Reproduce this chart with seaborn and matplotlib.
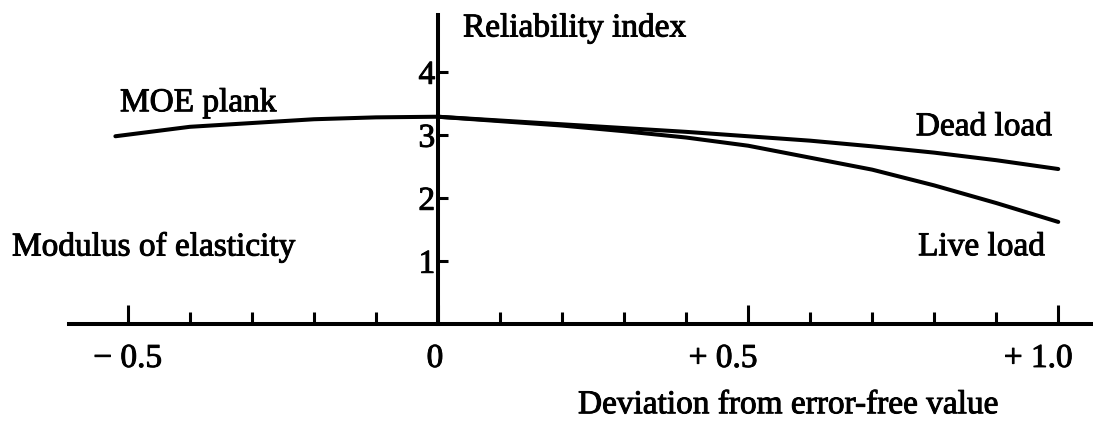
import matplotlib
matplotlib.use("Agg")
import matplotlib.pyplot as plt
import matplotlib.patheffects as pe
import matplotlib.transforms as mtransforms
import numpy as np
import pandas as pd
import seaborn as sns

# Reliability index versus deviation of the modulus of elasticity
moe_x = [-0.52, -0.4, -0.3, -0.2, -0.1, 0.0]
moe_beta = [2.98, 3.13, 3.19, 3.25, 3.28, 3.29]

load_x = [0.0, 0.1, 0.2, 0.3, 0.4, 0.5, 0.6, 0.7, 0.8, 0.9, 1.0]
dead_beta = [3.29, 3.23, 3.17, 3.11, 3.05, 2.98, 2.91, 2.82, 2.72, 2.60, 2.46]
live_beta = [3.29, 3.22, 3.15, 3.06, 2.96, 2.83, 2.64, 2.45, 2.20, 1.92, 1.62]

x_major = [-0.5, 0.0, 0.5, 1.0]
x_major_labels = ["\u2212 0.5", "0", "+ 0.5", "+ 1.0"]
x_minor = [-0.4, -0.3, -0.2, -0.1, 0.1, 0.2, 0.3, 0.4, 0.6, 0.7, 0.8, 0.9]
y_ticks = [1, 2, 3, 4]

sns.set_theme(style="white")
plt.rcParams["font.family"] = ["Liberation Serif", "DejaVu Serif"]

W, H = 1093, 429
FS = 24
ink = [pe.withStroke(linewidth=0.7, foreground="black")]

fig = plt.figure(figsize=(W / 100, H / 100), dpi=100)
ax = fig.add_axes([0, 0, 1, 1])

lw = 2.9
df = pd.concat([
    pd.DataFrame({"x": moe_x, "beta": moe_beta, "curve": "MOE plank"}),
    pd.DataFrame({"x": load_x, "beta": dead_beta, "curve": "Dead load"}),
    pd.DataFrame({"x": load_x, "beta": live_beta, "curve": "Live load"}),
])
sns.lineplot(data=df, x="x", y="beta", units="curve", estimator=None,
             color="black", linewidth=lw, sort=False, ax=ax, legend=False)

ax.set_xlim(-0.706, 1.056)
ax.set_ylim(-1.667, 5.143)
ax.set_xlabel("")
ax.set_ylabel("")

for side in ("top", "right"):
    ax.spines[side].set_visible(False)
ax.spines["left"].set_position(("data", 0))
ax.spines["bottom"].set_position(("data", 0))
ax.spines["left"].set_bounds(0, 4.9)
ax.spines["bottom"].set_bounds(-0.595, 1.06)
for side in ("left", "bottom"):
    ax.spines[side].set_linewidth(lw)
    ax.spines[side].set_color("black")

ax.set_xticks(x_major)
ax.set_xticklabels(x_major_labels)
ax.set_xticks(x_minor, minor=True)
ax.tick_params(axis="x", which="both", bottom=True)
ax.tick_params(axis="x", which="major", direction="in", length=14, width=2.2,
               color="black", pad=14, labelsize=FS, labelcolor="black")
ax.tick_params(axis="x", which="minor", direction="in", length=8.5, width=2.2,
               color="black")
ax.set_yticks(y_ticks)
ax.set_yticklabels([str(v) for v in y_ticks])
ax.tick_params(axis="y", which="major", left=True, direction="in", length=7,
               width=2.2, color="black", pad=2, labelsize=FS, labelcolor="black")
for lab in ax.get_xticklabels() + ax.get_yticklabels():
    lab.set_path_effects(ink)

# Nudge the signed labels a little so they sit as typeset
nudges_px = [0, -3, -25, -20]
for lab, dx in zip(ax.get_xticklabels(), nudges_px):
    shift = mtransforms.ScaledTranslation(dx / 100, 0, fig.dpi_scale_trans)
    lab.set_transform(lab.get_transform() + shift)


def px_text(x, y, s, **kw):
    ax.text(x / W, 1 - y / H, s, transform=ax.transAxes, fontsize=FS,
            color="black", va="center", path_effects=ink, **kw)


px_text(463, 28, "Reliability index", ha="left")
px_text(120, 103, "MOE plank", ha="left")
px_text(1052, 127, "Dead load", ha="right")
px_text(1045, 247, "Live load", ha="right")
px_text(12, 247, "Modulus of elasticity", ha="left")
px_text(578, 405, "Deviation from error-free value", ha="left")

fig.savefig("out.png", dpi=100, facecolor="white")
